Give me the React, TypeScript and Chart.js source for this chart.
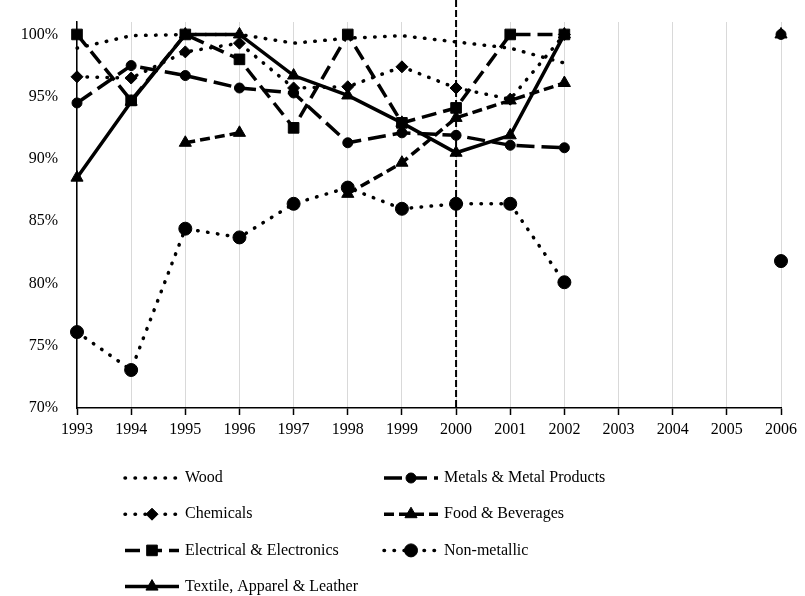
import React, { useEffect, useRef } from 'react';
import { Chart, registerables } from 'chart.js';
import { drawPoint } from 'chart.js/helpers';

Chart.register(...registerables);

const years = ['1993', '1994', '1995', '1996', '1997', '1998', '1999', '2000', '2001', '2002', '2003', '2004', '2005', '2006'];
const markerYear = '2000';
const yTicks = [70, 75, 80, 85, 90, 95, 100];

const wood = [98.9, 99.9, 100, 100, 99.3, 99.7, 99.9, 99.4, 98.9, 97.7, null, null, null, null];
const metals = [94.5, 97.5, 96.7, 95.7, 95.3, 91.3, 92.1, 91.9, 91.1, 90.9, null, null, null, 100];
const chemicals = [96.6, 96.5, 98.6, 99.3, 95.7, 95.8, 97.4, 95.7, 94.8, 100, null, null, null, null];
const food = [null, null, 91.3, 92.1, null, 87.2, 89.7, 93.3, 94.7, 96.1, null, null, null, 100];
const electrical = [100, 94.7, 100, 98.0, 92.5, 100, 92.9, 94.1, 100, 100, null, null, null, null];
const nonMetallic = [76.1, 73.05, 84.4, 83.7, 86.4, 87.7, 86.0, 86.4, 86.4, 80.1, null, null, null, 81.8];
const textile = [88.5, 94.6, 100, 100, 96.7, 95.1, 92.9, 90.5, 91.9, 100, null, null, null, null];

const FONT = 'Liberation Serif';
const DOT = [0.5, 9.5];

function mk(label: string, data: (number | null)[], dash: number[], cap: string, style: any, radius: number, width = 3.5) {
  return {
    label,
    data,
    borderColor: '#000',
    backgroundColor: '#000',
    borderWidth: width,
    borderDash: dash,
    borderCapStyle: cap,
    pointStyle: style,
    pointRadius: radius,
    pointHoverRadius: radius,
    pointBorderWidth: 1,
    pointBorderColor: '#000',
    pointBackgroundColor: '#000',
    tension: 0,
    spanGaps: false,
  };
}

const markerLinePlugin = {
  id: 'markerLine',
  beforeDatasetsDraw(chart: any) {
    const ctx = chart.ctx;
    const x = chart.scales.x.getPixelForValue(years.indexOf(markerYear));
    ctx.save();
    ctx.strokeStyle = '#000';
    ctx.lineWidth = 2;
    ctx.setLineDash([7, 3]);
    ctx.beginPath();
    ctx.moveTo(x, 0);
    ctx.lineTo(x, chart.chartArea.bottom);
    ctx.stroke();
    ctx.restore();
  },
};

const legendPlugin = {
  id: 'gridLegend',
  afterDraw(chart: any) {
    const ctx = chart.ctx;
    const area = chart.chartArea;
    const cols = [area.left + 75, area.left + 334];
    const y0 = area.bottom + 70;
    const rowH = 36.2;
    chart.data.datasets.forEach((ds: any, i: number) => {
      const cx = cols[i % 2];
      const cy = y0 + Math.floor(i / 2) * rowH;
      ctx.save();
      ctx.strokeStyle = '#000';
      ctx.fillStyle = '#000';
      ctx.lineWidth = ds.borderWidth;
      ctx.lineCap = ds.borderCapStyle;
      ctx.setLineDash(ds.borderDash || []);
      ctx.beginPath();
      ctx.moveTo(cx - 27, cy);
      ctx.lineTo(cx + 27, cy);
      ctx.stroke();
      ctx.setLineDash([]);
      ctx.lineCap = 'butt';
      if (ds.pointRadius > 0) {
        ctx.lineWidth = 1;
        drawPoint(ctx, { pointStyle: ds.pointStyle, radius: ds.pointRadius, borderWidth: 1, rotation: 0 } as any, cx, cy);
      }
      ctx.font = `16px "${FONT}"`;
      ctx.textBaseline = 'middle';
      ctx.textAlign = 'left';
      ctx.fillText(ds.label, cx + 33, cy);
      ctx.restore();
    });
  },
};

export default function App() {
  const ref = useRef<HTMLCanvasElement>(null);
  useEffect(() => {
    if (!ref.current) return;
    Chart.defaults.font.family = FONT;
    const chart = new Chart(ref.current, {
      type: 'line',
      data: {
        labels: years,
        datasets: [
          mk('Wood', wood, DOT, 'round', 'circle', 0),
          mk('Metals & Metal Products', metals, [18, 7], 'butt', 'circle', 5),
          mk('Chemicals', chemicals, DOT, 'round', 'rectRot', 6),
          mk('Food & Beverages', food, [10, 5], 'butt', 'triangle', 7),
          mk('Electrical & Electronics', electrical, [15, 7], 'butt', 'rect', 7.5),
          mk('Non-metallic', nonMetallic, DOT, 'round', 'circle', 6.5),
          mk('Textile, Apparel & Leather', textile, [], 'butt', 'triangle', 7),
        ] as any,
      },
      options: {
        responsive: false,
        animation: false,
        events: [],
        layout: { padding: { left: 0, top: 22, right: 24, bottom: 158 } },
        plugins: {
          legend: { display: false },
          tooltip: { enabled: false },
        },
        scales: {
          x: {
            type: 'category',
            offset: false,
            grid: { color: '#d9d9d9', lineWidth: 1, drawTicks: true, tickLength: 7, tickColor: '#000', tickWidth: 1.5 } as any,
            border: { color: '#000', width: 1.5 },
            ticks: { color: '#000', font: { family: FONT, size: 16 }, padding: 5, maxRotation: 0, autoSkip: false },
            afterFit: (s: any) => { s.height = 30; },
          },
          y: {
            min: 70,
            max: 101,
            afterBuildTicks: (s: any) => { s.ticks = yTicks.map((v) => ({ value: v })); },
            grid: { display: false, drawTicks: false },
            border: { color: '#000', width: 1.5 },
            ticks: { color: '#000', font: { family: FONT, size: 16 }, padding: 19, callback: (v: any) => `${v}%` },
            afterFit: (s: any) => { s.width = 77; s.paddingTop = 0; s.paddingBottom = 0; },
          },
        },
      },
      plugins: [markerLinePlugin, legendPlugin],
    });
    return () => chart.destroy();
  }, []);
  return (
    <div style={{ position: 'absolute', left: 0, top: 0, width: 805, height: 596, background: '#fff' }}>
      <canvas ref={ref} width={805} height={596} />
    </div>
  );
}
